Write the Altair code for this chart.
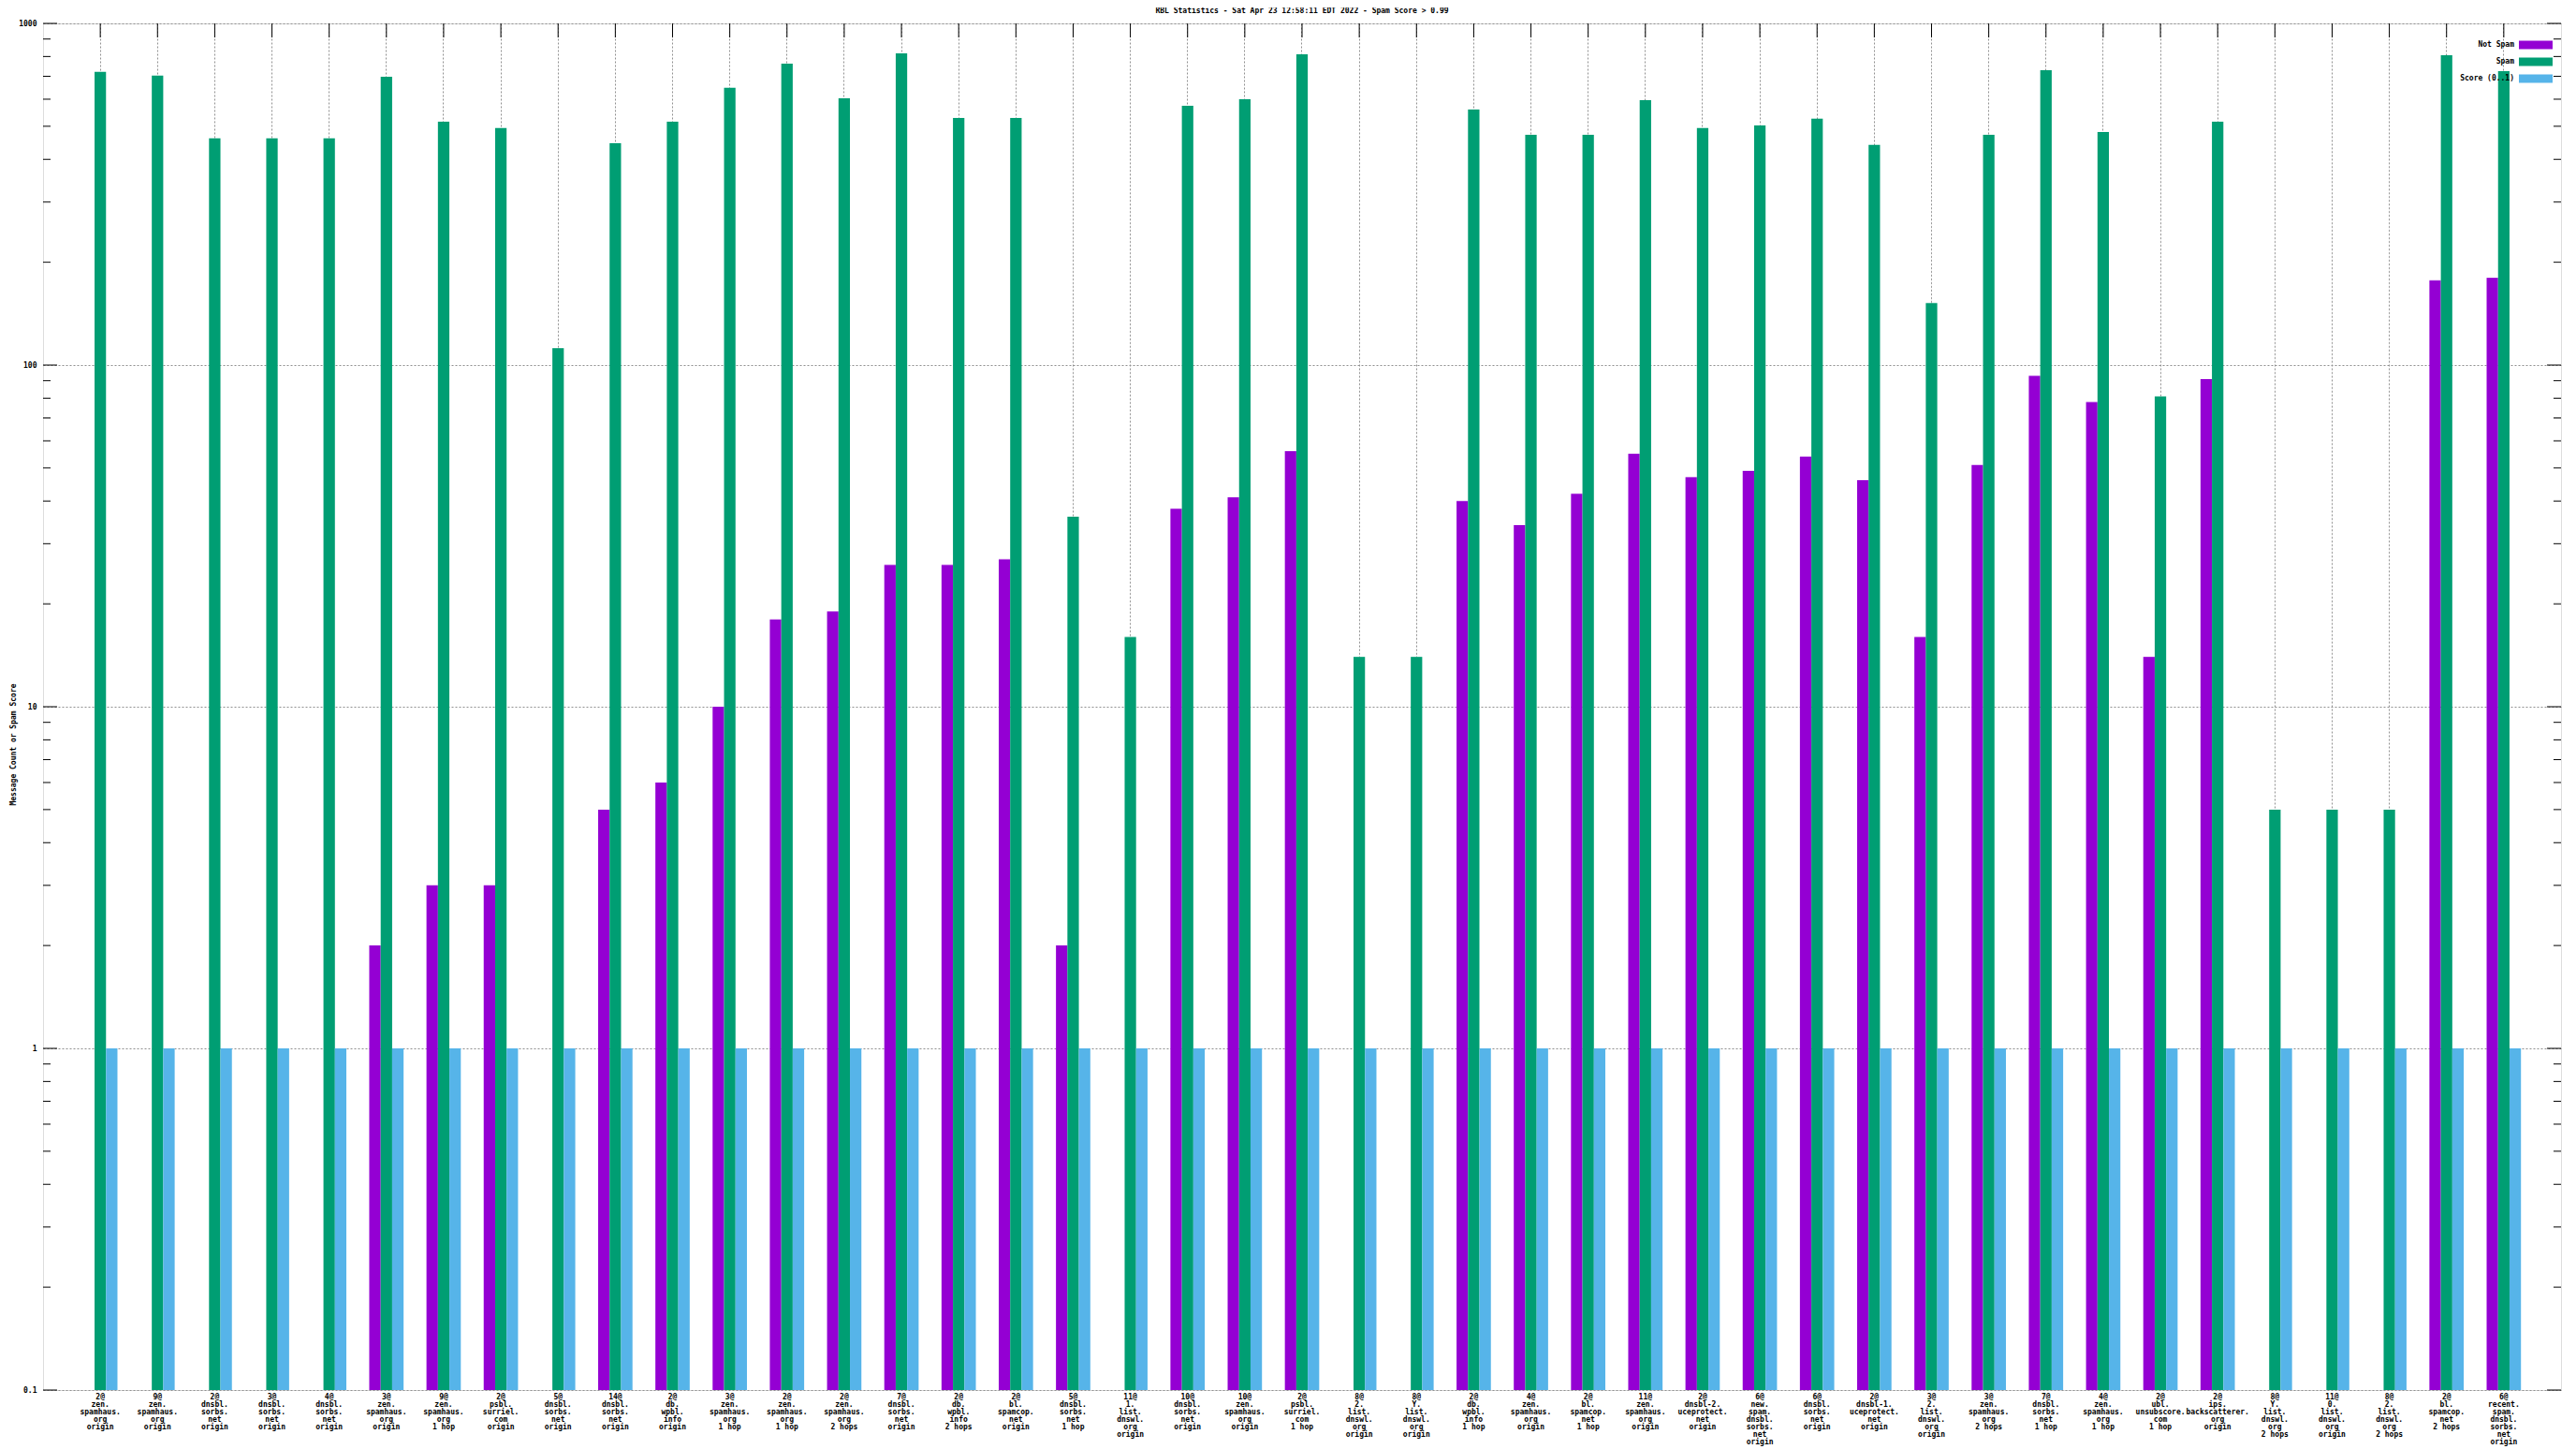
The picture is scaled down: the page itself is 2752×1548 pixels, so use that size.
import altair as alt
import pandas as pd

TITLE = "RBL Statistics - Sat Apr 23 12:58:11 EDT 2022 - Spam Score > 0.99"
Y_TITLE = "Message Count or Spam Score"
SERIES = ["Not Spam", "Spam", "Score (0..1)"]
COLORS = ["#9400d3", "#009e73", "#56b4e9"]
FONT = "DejaVu Sans Mono"
WEIGHT = "bold"

labels = [
    ["2@", "zen.", "spamhaus.", "org", "origin"],
    ["9@", "zen.", "spamhaus.", "org", "origin"],
    ["2@", "dnsbl.", "sorbs.", "net", "origin"],
    ["3@", "dnsbl.", "sorbs.", "net", "origin"],
    ["4@", "dnsbl.", "sorbs.", "net", "origin"],
    ["3@", "zen.", "spamhaus.", "org", "origin"],
    ["9@", "zen.", "spamhaus.", "org", "1 hop"],
    ["2@", "psbl.", "surriel.", "com", "origin"],
    ["5@", "dnsbl.", "sorbs.", "net", "origin"],
    ["14@", "dnsbl.", "sorbs.", "net", "origin"],
    ["2@", "db.", "wpbl.", "info", "origin"],
    ["3@", "zen.", "spamhaus.", "org", "1 hop"],
    ["2@", "zen.", "spamhaus.", "org", "1 hop"],
    ["2@", "zen.", "spamhaus.", "org", "2 hops"],
    ["7@", "dnsbl.", "sorbs.", "net", "origin"],
    ["2@", "db.", "wpbl.", "info", "2 hops"],
    ["2@", "bl.", "spamcop.", "net", "origin"],
    ["5@", "dnsbl.", "sorbs.", "net", "1 hop"],
    ["11@", "1.", "list.", "dnswl.", "org", "origin"],
    ["10@", "dnsbl.", "sorbs.", "net", "origin"],
    ["10@", "zen.", "spamhaus.", "org", "origin"],
    ["2@", "psbl.", "surriel.", "com", "1 hop"],
    ["8@", "2.", "list.", "dnswl.", "org", "origin"],
    ["8@", "Y.", "list.", "dnswl.", "org", "origin"],
    ["2@", "db.", "wpbl.", "info", "1 hop"],
    ["4@", "zen.", "spamhaus.", "org", "origin"],
    ["2@", "bl.", "spamcop.", "net", "1 hop"],
    ["11@", "zen.", "spamhaus.", "org", "origin"],
    ["2@", "dnsbl-2.", "uceprotect.", "net", "origin"],
    ["6@", "new.", "spam.", "dnsbl.", "sorbs.", "net", "origin"],
    ["6@", "dnsbl.", "sorbs.", "net", "origin"],
    ["2@", "dnsbl-1.", "uceprotect.", "net", "origin"],
    ["3@", "2.", "list.", "dnswl.", "org", "origin"],
    ["3@", "zen.", "spamhaus.", "org", "2 hops"],
    ["7@", "dnsbl.", "sorbs.", "net", "1 hop"],
    ["4@", "zen.", "spamhaus.", "org", "1 hop"],
    ["2@", "ubl.", "unsubscore.", "com", "1 hop"],
    ["2@", "ips.", "backscatterer.", "org", "origin"],
    ["8@", "Y.", "list.", "dnswl.", "org", "2 hops"],
    ["11@", "0.", "list.", "dnswl.", "org", "origin"],
    ["8@", "2.", "list.", "dnswl.", "org", "2 hops"],
    ["2@", "bl.", "spamcop.", "net", "2 hops"],
    ["6@", "recent.", "spam.", "dnsbl.", "sorbs.", "net", "origin"],
]

not_spam = [None, None, None, None, None, 2, 3, 3, None, 5,
            6, 10, 18, 19, 26, 26, 27, 2, None, 38,
            41, 56, None, None, 40, 34, 42, 55, 47, 49,
            54, 46, 16, 51, 93, 78, 14, 91, None, None,
            None, 177, 180]

spam = [721, 703, 461, 461, 461, 698, 516, 494, 112, 446,
        516, 648, 763, 604, 817, 529, 529, 36, 16, 574,
        600, 812, 14, 14, 560, 472, 472, 596, 494, 503,
        526, 441, 152, 472, 730, 481, 81, 516, 5, 5,
        5, 807, 725]

score = [1, 1, 1, 1, 1, 1, 1, 1, 1, 1,
         1, 1, 1, 1, 1, 1, 1, 1, 1, 1,
         1, 1, 1, 1, 1, 1, 1, 1, 1, 1,
         1, 1, 1, 1, 1, 1, 1, 1, 1, 1,
         1, 1, 1]

y_major = [0.1, 1, 10, 100, 1000]
y_minor = [0.2, 0.3, 0.4, 0.5, 0.6, 0.7, 0.8, 0.9,
           2, 3, 4, 5, 6, 7, 8, 9,
           20, 30, 40, 50, 60, 70, 80, 90,
           200, 300, 400, 500, 600, 700, 800, 900]

W, H = 2690, 1460
GRID = "#909090"

group_names = ["|".join(l) for l in labels]

rows = []
for i, g in enumerate(group_names):
    for s, vals in zip(SERIES, (not_spam, spam, score)):
        v = vals[i]
        if v is not None:
            rows.append({"group": g, "series": s, "value": v})
df = pd.DataFrame(rows)

yscale = alt.Scale(type="log", domain=[0.1, 1000], clamp=True)
xscale = alt.Scale(paddingInner=0.4, paddingOuter=0.7)

x_axis = alt.Axis(
    title=None, labelExpr="split(datum.label, '|')", labelAngle=0,
    labelOverlap=False, labelFont=FONT, labelFontSize=8, labelFontWeight=WEIGHT,
    labelLineHeight=8, labelPadding=3, labelBaseline="top", labelColor="black",
    labelLimit=0, labelFlush=False, ticks=False, domain=False, grid=True,
    gridColor=GRID, gridDash=[2, 2], gridWidth=1,
)
y_axis = alt.Axis(
    title=Y_TITLE, values=y_major, format="~g", ticks=False, domain=False,
    grid=True, gridColor=GRID, gridDash=[2, 2], gridWidth=1,
    labelFont=FONT, labelFontSize=8, labelFontWeight=WEIGHT, labelPadding=7,
    labelColor="black",
    titleFont=FONT, titleFontSize=8, titleFontWeight=WEIGHT, titleColor="black",
    titleX=-32, titleY=770, titleAngle=270, titleAlign="center", titleBaseline="middle",
)

legend = alt.Legend(
    title=None, orient="none", legendX=2630, legendY=18,
    symbolType="M2,-0.9H9.2V0.9H2Z", symbolSize=100,
    symbolStrokeWidth=0, symbolOffset=0, labelAlign="right", labelOffset=0,
    labelFont=FONT, labelFontSize=8, labelFontWeight=WEIGHT, labelColor="black",
    rowPadding=8, padding=0,
)

bars = alt.Chart(df).mark_bar().encode(
    x=alt.X("group:N", sort=group_names, scale=xscale, axis=x_axis),
    xOffset=alt.XOffset("series:N", sort=SERIES,
                        scale=alt.Scale(paddingInner=0, paddingOuter=0)),
    y=alt.Y("value:Q", scale=yscale, axis=y_axis),
    y2=alt.datum(0.1),
    color=alt.Color("series:N", sort=SERIES,
                    scale=alt.Scale(domain=SERIES, range=COLORS), legend=legend),
)

top_ticks = alt.Chart(pd.DataFrame({"group": group_names})).mark_rule(
    color="black", strokeWidth=1
).encode(
    x=alt.X("group:N", sort=group_names),
    y=alt.value(0), y2=alt.value(15),
)

major_df = pd.DataFrame({"t": y_major})
minor_df = pd.DataFrame({"t": y_minor})


def ytick(data, x0, x1):
    return alt.Chart(data).mark_rule(color="black", strokeWidth=1).encode(
        y=alt.Y("t:Q", scale=yscale),
        x=alt.value(x0), x2=alt.value(x1),
    )


chart = alt.layer(
    bars, top_ticks,
    ytick(major_df, 0, 15), ytick(minor_df, 0, 8),
    ytick(major_df, W, W - 15), ytick(minor_df, W, W - 8),
).properties(
    width=W, height=H,
    title=alt.TitleParams(TITLE, font=FONT, fontSize=8, fontWeight=WEIGHT,
                          color="black", anchor="middle", offset=5),
    autosize=alt.AutoSizeParams(type="none"),
    padding={"left": 38, "top": 17, "right": 8, "bottom": 63},
).configure_view(
    stroke="black", strokeWidth=1
).configure(background="white")

chart.save("out.html", embed_options={"renderer": "svg", "actions": False})
